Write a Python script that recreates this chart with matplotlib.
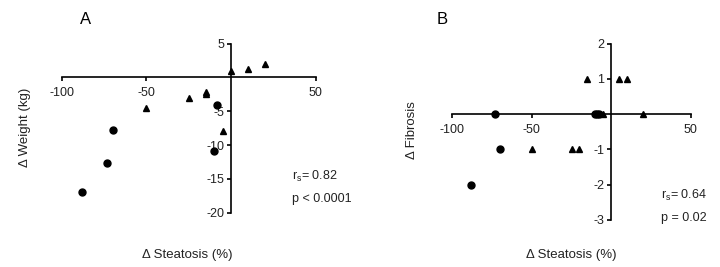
import matplotlib
matplotlib.use("Agg")
import matplotlib.pyplot as plt

plt.rcParams['font.family'] = ['Liberation Sans', 'DejaVu Sans']

# Panel A: Δ Steatosis vs Δ Weight
a_circ_x = [-88, -73, -70, -10, -8]
a_circ_y = [-16.9, -12.6, -7.7, -10.8, -4.1]
a_tri_x = [0, 10, 20, -50, -25, -15, -15, -5]
a_tri_y = [1.0, 1.2, 2.0, -4.5, -3.1, -2.2, -2.4, -7.9]

# Panel B: Δ Steatosis vs Δ Fibrosis
b_circ_x = [-73, -10, -9, -8, -70, -88]
b_circ_y = [0, 0, 0, 0, -1, -2]
b_tri_x = [-15, 5, 10, -5, 20, -50, -25, -20]
b_tri_y = [1, 1, 1, 0, 0, -1, -1, -1]

a_xticks = [-100, -50, 50]
a_yticks = [5, -5, -10, -15, -20]
b_xticks = [-100, -50, 50]
b_yticks = [2, 1, -1, -2, -3]

W, H = 720, 267
fig = plt.figure(figsize=(W/100, H/100), dpi=100)

def px(x, y):
    return x / W, 1 - y / H

tc = '#222222'

def make_ax(rect, xlim, ylim, xticks, yticks, cx, cy, tx, ty):
    ax = fig.add_axes(rect)
    ax.set_xlim(*xlim)
    ax.set_ylim(*ylim)
    for s in ['top', 'right']:
        ax.spines[s].set_visible(False)
    ax.spines['left'].set_position(('data', 0))
    ax.spines['bottom'].set_position(('data', 0))
    for s in ['left', 'bottom']:
        ax.spines[s].set_linewidth(1.2)
        ax.spines[s].set_color('black')
    ax.set_xticks(xticks)
    ax.set_yticks(yticks)
    ax.set_xticklabels([str(v) for v in xticks])
    ax.set_yticklabels([str(v) for v in yticks])
    ax.tick_params(axis='x', direction='out', length=3, width=1.2, pad=4,
                   labelsize=9, labelcolor=tc)
    ax.tick_params(axis='y', direction='out', length=3, width=1.2, pad=2,
                   labelsize=9, labelcolor=tc)
    ax.patch.set_visible(False)
    ax.plot(cx, cy, 'o', color='black', markersize=5, clip_on=False, zorder=3)
    ax.plot(tx, ty, '^', color='black', markersize=4.5, clip_on=False, zorder=3)
    return ax

# Panel A geometry
axA = make_ax([61.7/W, 1 - 212.7/H, 254/W, 169/H], (-100, 50), (-20, 5),
              a_xticks, a_yticks, a_circ_x, a_circ_y, a_tri_x, a_tri_y)
axB = make_ax([452.3/W, 1 - 219.7/H, 238.4/W, 176/H], (-100, 50), (-3, 2),
              b_xticks, b_yticks, b_circ_x, b_circ_y, b_tri_x, b_tri_y)

# Panel letters
fig.text(*px(86, 20), 'A', fontsize=12, ha='center', va='center', color='black')
fig.text(*px(441.7, 20), 'B', fontsize=12, ha='center', va='center', color='black')

# Axis labels
fig.text(*px(25, 127), 'Δ Weight (kg)', rotation=90, fontsize=9.5,
         ha='center', va='center', color=tc)
fig.text(*px(411.7, 130), 'Δ Fibrosis', rotation=90, fontsize=9.5,
         ha='center', va='center', color=tc)
fig.text(*px(187.7, 255), 'Δ Steatosis (%)', fontsize=9.5,
         ha='center', va='center', color=tc)
fig.text(*px(571.7, 255), 'Δ Steatosis (%)', fontsize=9.5,
         ha='center', va='center', color=tc)

# Stats
fig.text(*px(292, 176), r'r$_\mathregular{s}$= 0.82', fontsize=9, ha='left', va='center', color=tc)
fig.text(*px(292, 199), 'p < 0.0001', fontsize=9, ha='left', va='center', color=tc)
fig.text(*px(661, 195), r'r$_\mathregular{s}$= 0.64', fontsize=9, ha='left', va='center', color=tc)
fig.text(*px(661, 218), 'p = 0.02', fontsize=9, ha='left', va='center', color=tc)

fig.savefig('out.png', dpi=100)
